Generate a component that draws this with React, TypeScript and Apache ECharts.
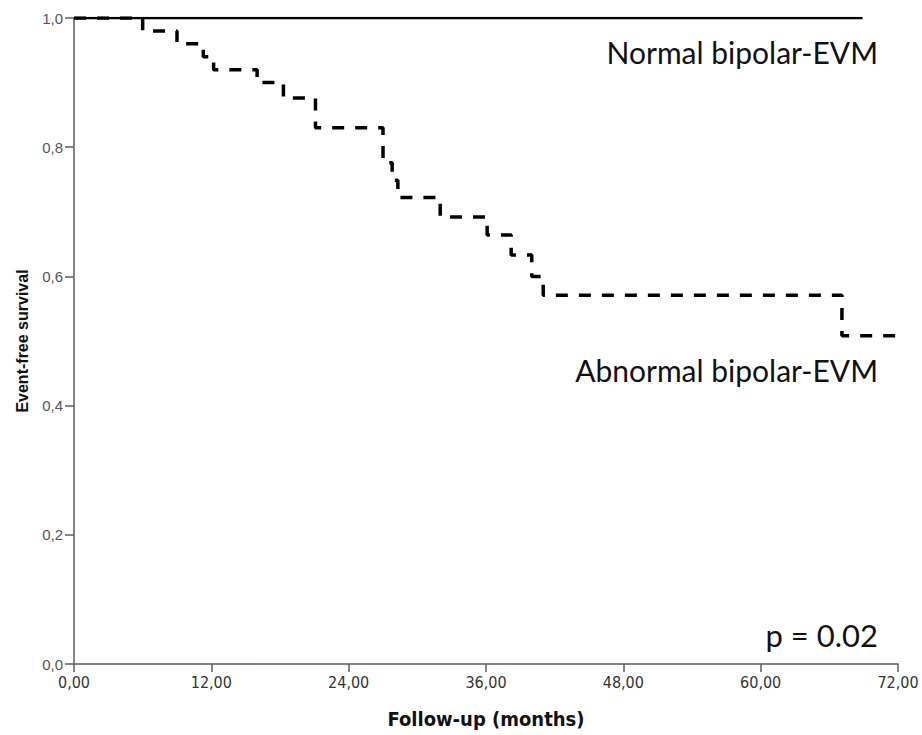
import React, { useEffect, useRef } from "react";
import * as echarts from "echarts";

const xTicks = [0, 12, 24, 36, 48, 60, 72];
const yTicks = [0, 0.2, 0.4, 0.6, 0.8, 1.0];

const normalTimes = [0, 68.9];
const normalSurvival = [1.0, 1.0];

const abnormalTimes = [0, 6.0, 9.0, 11.3, 12.2, 16.0, 18.3, 21.1, 27.0, 27.8, 28.3, 32.0, 36.1, 38.2, 40.0, 41.0, 67.1, 72.0];
const abnormalSurvival = [1.0, 0.98, 0.96, 0.94, 0.92, 0.9, 0.876, 0.83, 0.776, 0.749, 0.722, 0.692, 0.664, 0.633, 0.6, 0.571, 0.508, 0.508];

const seriesLabels = ["Normal bipolar-EVM", "Abnormal bipolar-EVM"];
const pText = "p = 0.02";
const xTitle = "Follow-up (months)";
const yTitle = "Event-free survival";

const condensed = "'DejaVu Sans Condensed', Roboto, sans-serif";

export default function App() {
  const ref = useRef<HTMLDivElement>(null);
  useEffect(() => {
    if (!ref.current) return;
    const chart = echarts.init(ref.current, undefined, { renderer: "svg" });
    const axisColor = "#5c5c5c";
    chart.setOption({
      animation: false,
      backgroundColor: "#ffffff",
      grid: { left: 74, right: 24, top: 18, bottom: 71, containLabel: false },
      xAxis: {
        type: "value",
        min: xTicks[0],
        max: xTicks[xTicks.length - 1],
        interval: 12,
        name: xTitle,
        nameLocation: "middle",
        nameGap: 45,
        nameTextStyle: { fontFamily: condensed, fontWeight: "bold", fontSize: 20, color: "#111" },
        axisLine: { show: true, lineStyle: { color: axisColor, width: 1.5 } },
        axisTick: { show: true, length: 8, inside: false, lineStyle: { color: axisColor, width: 1.5 } },
        axisLabel: {
          fontFamily: condensed,
          fontSize: 16,
          color: "#333",
          margin: 10,
          formatter: (v: number) => v.toFixed(2).replace(".", ","),
        },
        splitLine: { show: false },
      },
      yAxis: {
        type: "value",
        min: yTicks[0],
        max: yTicks[yTicks.length - 1],
        interval: 0.2,
        name: yTitle,
        nameLocation: "middle",
        nameGap: 44,
        nameRotate: 90,
        nameTextStyle: { fontFamily: "Liberation Sans", fontWeight: "bold", fontSize: 16, color: "#111" },
        axisLine: { show: true, lineStyle: { color: axisColor, width: 1.5 } },
        axisTick: { show: true, length: 9, inside: false, lineStyle: { color: axisColor, width: 1.5 } },
        axisLabel: {
          fontFamily: "Liberation Sans",
          fontSize: 15,
          color: "#555",
          margin: 11,
          formatter: (v: number) => v.toFixed(1).replace(".", ","),
        },
        splitLine: { show: false },
      },
      series: [
        {
          name: seriesLabels[0],
          type: "line",
          step: "end",
          symbol: "none",
          data: normalTimes.map((t, i) => [t, normalSurvival[i]]),
          lineStyle: { color: "#000", width: 2.5, type: "solid" },
          z: 3,
        },
        {
          name: seriesLabels[1],
          type: "line",
          step: "end",
          symbol: "none",
          data: abnormalTimes.map((t, i) => [t, abnormalSurvival[i]]),
          lineStyle: { color: "#000", width: 3.5, type: [12, 11] },
          z: 2,
        },
      ],
      graphic: [
        {
          type: "text",
          right: 44,
          top: 37,
          style: { text: seriesLabels[0], fontFamily: "Lato", fontSize: 30, fill: "#111" },
        },
        {
          type: "text",
          right: 44,
          top: 355,
          style: { text: seriesLabels[1], fontFamily: "Lato", fontSize: 30, fill: "#111" },
        },
        {
          type: "text",
          right: 44,
          top: 619,
          style: { text: pText, fontFamily: "Lato", fontSize: 31, fill: "#111" },
        },
      ],
    });
    return () => chart.dispose();
  }, []);
  return <div ref={ref} style={{ width: 922, height: 735, position: "absolute", left: 0, top: 0 }} />;
}
